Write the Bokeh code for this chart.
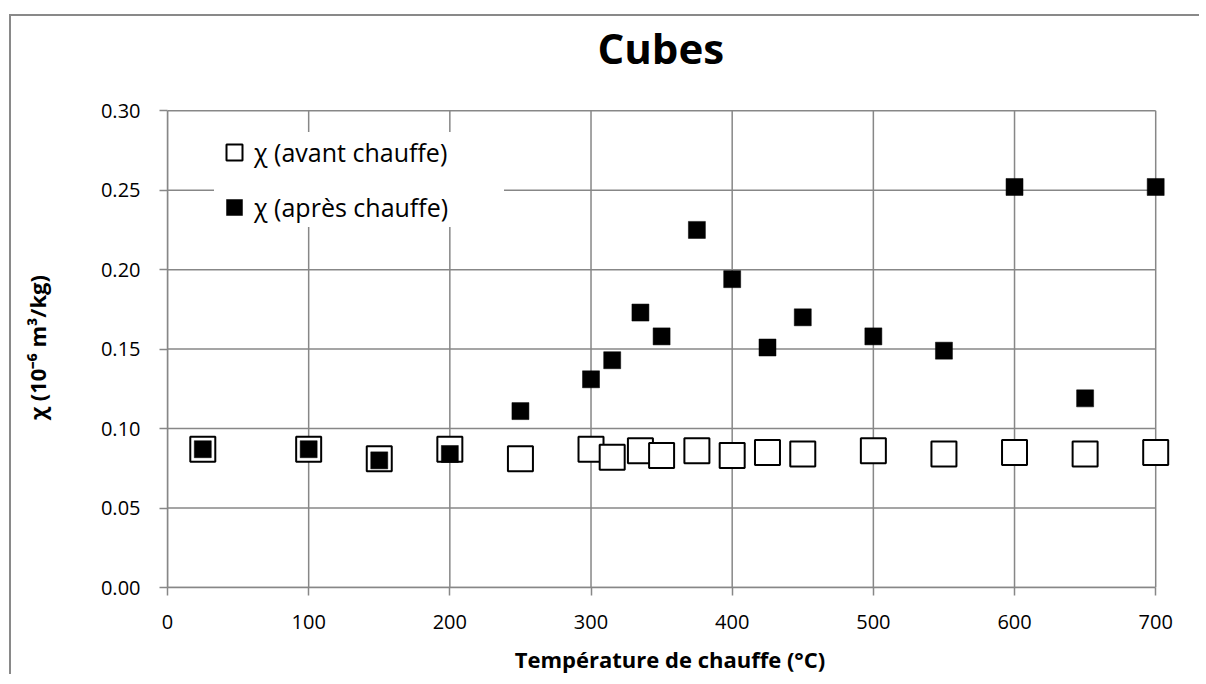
from bokeh.plotting import figure
from bokeh.models import Range1d, FixedTicker, NumeralTickFormatter, Legend, LegendItem, Title
from bokeh.embed import file_html
from bokeh.resources import INLINE

# Data
temperature = [25, 100, 150, 200, 250, 300, 315, 335, 350, 375, 400, 425, 450, 500, 550, 600, 650, 700]
chi_avant = [0.087, 0.087, 0.081, 0.087, 0.081, 0.087, 0.082, 0.086, 0.083, 0.086, 0.083, 0.085, 0.084, 0.086, 0.084, 0.085, 0.084, 0.085]
chi_apres = [0.087, 0.087, 0.080, 0.084, 0.111, 0.131, 0.143, 0.173, 0.158, 0.225, 0.194, 0.151, 0.170, 0.158, 0.149, 0.252, 0.119, 0.252]
x_ticks = [0, 100, 200, 300, 400, 500, 600, 700]
y_ticks = [0.0, 0.05, 0.10, 0.15, 0.20, 0.25, 0.30]

FONT = "Open Sans"
GRID = "#878787"

x_lo, x_hi = x_ticks[0], x_ticks[-1]
y_lo, y_hi = y_ticks[0], y_ticks[-1]

p = figure(width=1190, height=660, output_backend="svg", toolbar_location=None,
           x_range=Range1d(x_lo, x_hi * 1.017), y_range=Range1d(y_lo, y_hi * 1.0067),
           min_border_left=156, min_border_right=29, min_border_top=0, min_border_bottom=85)
p.margin = (16, 0, 0, 11)
p.styles = {"box-shadow": "-2px -2px 0px 0px #898989"}
p.outline_line_color = None
p.background_fill_color = "white"
p.border_fill_color = "white"
p.xgrid.visible = False
p.ygrid.visible = False

# titles stacked above the frame: spacer first (next to the frame), then the title
spacer = Title(text=" ", text_font=FONT, text_font_size="10px", standoff=12)
main_title = Title(text="Cubes", align="left", vertical_align="top", offset=430, standoff=4,
                   text_font=FONT, text_font_size="42px", text_font_style="bold", text_color="black")
p.add_layout(spacer, "above")
p.add_layout(main_title, "above")

# grid lines, drawn from the tick lists
p.segment(x0=x_lo, x1=x_hi, y0=y_ticks, y1=y_ticks, line_color=GRID, line_width=1.5)
p.segment(x0=x_ticks, x1=x_ticks, y0=y_lo, y1=y_hi, line_color=GRID, line_width=1.5)

r_avant = p.scatter(temperature, chi_avant, marker="square", size=25, fill_color="white",
                    line_color="black", line_width=2)
r_apres = p.scatter(temperature, chi_apres, marker="square", size=17, fill_color="black",
                    line_color="black", line_width=0.5)

for ax in (p.xaxis[0], p.yaxis[0]):
    ax.axis_line_color = GRID
    ax.axis_line_width = 1.5
    ax.major_tick_line_color = GRID
    ax.major_tick_line_width = 1.5
    ax.major_tick_out = 8
    ax.major_tick_in = 0
    ax.minor_tick_out = 0
    ax.minor_tick_in = 0
    ax.major_label_text_font = FONT
    ax.major_label_text_font_size = "20px"
    ax.major_label_text_color = "black"
    ax.axis_label_text_font = FONT
    ax.axis_label_text_font_size = "22px"
    ax.axis_label_text_font_style = "bold"
    ax.axis_label_text_color = "black"

p.xaxis.bounds = (x_lo, x_hi)
p.yaxis.bounds = (y_lo, y_hi)
p.xaxis.ticker = FixedTicker(ticks=x_ticks)
p.yaxis.ticker = FixedTicker(ticks=y_ticks)
p.yaxis.formatter = NumeralTickFormatter(format="0.00")
p.xaxis.major_label_standoff = 19
p.yaxis.major_label_standoff = 19
p.xaxis.axis_label = "Température de chauffe (°C)"
p.yaxis.axis_label = "χ (10⁻⁶ m³/kg)"
p.xaxis.axis_label_standoff = 12
p.yaxis.axis_label_standoff = 46

legend = Legend(items=[LegendItem(label="χ (avant chauffe)", renderers=[r_avant]),
                       LegendItem(label="χ (après chauffe)", renderers=[r_apres])],
                location=(47, 360), orientation="vertical",
                background_fill_color="white", background_fill_alpha=1.0,
                border_line_color=None, padding=11, spacing=15,
                glyph_width=40, glyph_height=40, label_standoff=0,
                label_text_font=FONT, label_text_font_size="25px", label_text_color="black",
                label_width=250)
p.add_layout(legend)

open("out.html", "w").write(file_html(p, INLINE))
